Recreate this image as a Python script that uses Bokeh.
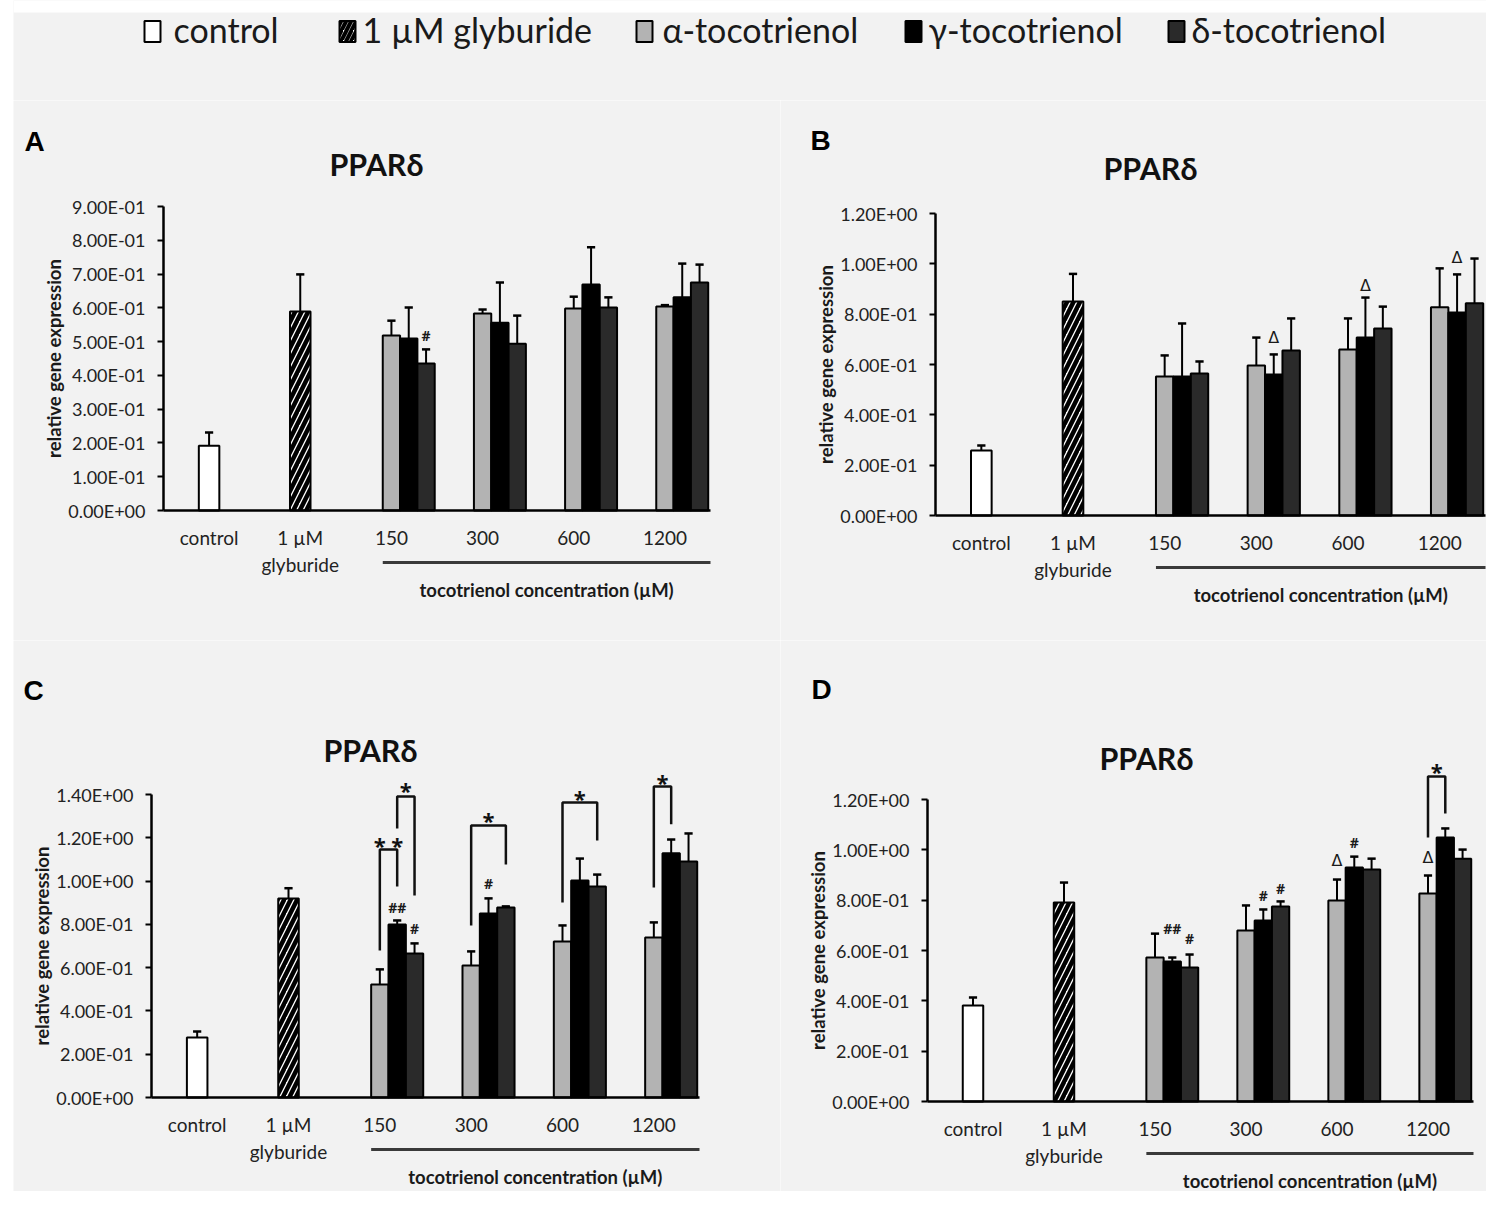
import math
from bokeh.plotting import figure
from bokeh.models import FixedTicker, Range1d, Spacer
from bokeh.layouts import column, row
from bokeh.embed import file_html
from bokeh.resources import INLINE
from bokeh.core.properties import value

BG = "#f2f2f2"
FONT = "Lato"

# ---------------- data ----------------
categories = ["control", "1 µM\nglyburide", "150", "300", "600", "1200"]
series_names = ["control", "1 µM glyburide", "α-tocotrienol", "γ-tocotrienol", "δ-tocotrienol"]
panel_letters = ["A", "B", "C", "D"]
panel_title = "PPARδ"
x_group_title = "tocotrienol concentration (µM)"
y_title = "relative gene expression"

# Panel A
A_ref = [0.192, 0.589]            # control, 1 µM glyburide
A_ref_sd = [0.039, 0.110]
A_alpha = [0.518, 0.583, 0.598, 0.604]
A_alpha_sd = [0.044, 0.012, 0.035, 0.004]
A_gamma = [0.509, 0.556, 0.669, 0.631]
A_gamma_sd = [0.092, 0.119, 0.110, 0.100]
A_delta = [0.435, 0.494, 0.601, 0.675]
A_delta_sd = [0.042, 0.083, 0.030, 0.053]
A_yticks = [0, 0.1, 0.2, 0.3, 0.4, 0.5, 0.6, 0.7, 0.8, 0.9]
A_ylabels = ["0.00E+00", "1.00E-01", "2.00E-01", "3.00E-01", "4.00E-01",
             "5.00E-01", "6.00E-01", "7.00E-01", "8.00E-01", "9.00E-01"]
A_marks = [(0, 2, "#", 0.518)]
A_brackets = []

# Panel B
B_ref = [0.258, 0.850]
B_ref_sd = [0.020, 0.110]
B_alpha = [0.552, 0.596, 0.660, 0.827]
B_alpha_sd = [0.084, 0.111, 0.123, 0.155]
B_gamma = [0.552, 0.560, 0.707, 0.807]
B_gamma_sd = [0.211, 0.080, 0.159, 0.151]
B_delta = [0.564, 0.656, 0.743, 0.843]
B_delta_sd = [0.048, 0.127, 0.087, 0.178]
B_yticks = [0, 0.2, 0.4, 0.6, 0.8, 1.0, 1.2]
B_ylabels = ["0.00E+00", "2.00E-01", "4.00E-01", "6.00E-01", "8.00E-01", "1.00E+00", "1.20E+00"]
B_marks = [(1, 1, "Δ", 0.707), (2, 1, "Δ", 0.914), (3, 1, "Δ", 1.025)]
B_brackets = []

# Panel C
C_ref = [0.277, 0.920]
C_ref_sd = [0.028, 0.047]
C_alpha = [0.522, 0.610, 0.721, 0.739]
C_alpha_sd = [0.070, 0.065, 0.074, 0.070]
C_gamma = [0.799, 0.850, 1.003, 1.128]
C_gamma_sd = [0.019, 0.070, 0.101, 0.064]
C_delta = [0.665, 0.878, 0.975, 1.091]
C_delta_sd = [0.047, 0.005, 0.055, 0.129]
C_yticks = [0, 0.2, 0.4, 0.6, 0.8, 1.0, 1.2, 1.4]
C_ylabels = ["0.00E+00", "2.00E-01", "4.00E-01", "6.00E-01", "8.00E-01",
             "1.00E+00", "1.20E+00", "1.40E+00"]
C_marks = [(0, 1, "##", 0.878), (0, 2, "#", 0.781), (1, 1, "#", 0.989)]
# (group, left series, right series, left foot, top, right foot, label, label y)
C_brackets = [(0, 0, 1, 0.679, 1.146, 0.975, "* *", 1.188),
              (0, 1, 2, 1.243, 1.391, 0.933, "*", 1.442),
              (1, 0, 2, 0.795, 1.257, 1.077, "*", 1.303),
              (2, 0, 2, 0.901, 1.363, 1.188, "*", 1.405),
              (3, 0, 1, 0.970, 1.437, 1.262, "*", 1.479)]

# Panel D
D_ref = [0.381, 0.791]
D_ref_sd = [0.032, 0.079]
D_alpha = [0.572, 0.679, 0.799, 0.826]
D_alpha_sd = [0.095, 0.100, 0.083, 0.072]
D_gamma = [0.556, 0.719, 0.930, 1.049]
D_gamma_sd = [0.016, 0.044, 0.043, 0.036]
D_delta = [0.532, 0.775, 0.922, 0.965]
D_delta_sd = [0.052, 0.020, 0.043, 0.036]
D_yticks = [0, 0.2, 0.4, 0.6, 0.8, 1.0, 1.2]
D_ylabels = ["0.00E+00", "2.00E-01", "4.00E-01", "6.00E-01", "8.00E-01", "1.00E+00", "1.20E+00"]
D_marks = [(0, 1, "##", 0.687), (0, 2, "#", 0.648), (1, 1, "#", 0.818), (1, 2, "#", 0.846),
           (2, 0, "Δ", 0.957), (2, 1, "#", 1.029), (3, 0, "Δ", 0.969)]
D_brackets = [(3, 0, 1, 1.049, 1.291, 1.144, "*", 1.335)]

# ---------------- style ----------------
series_fill = ["white", "white", "#b3b3b3", "#000000", "#2a2a2a"]
REF_W = 0.225
BAR_W = 0.19

# page-pixel layout of each panel (left, top, right, bottom, axis x0, axis x6, axis y0, axis ytop)
GEOM = {
    "A": dict(left=13, top=100, right=780, bottom=640, x0=163, x6=710, y0=510, ytop=206,
              title=(376, 163), letter=(34, 141)),
    "B": dict(left=780, top=100, right=1486, bottom=640, x0=935, x6=1485, y0=515, ytop=213,
              title=(1150, 167), letter=(820, 140)),
    "C": dict(left=13, top=640, right=780, bottom=1191, x0=151, x6=699, y0=1097, ytop=794,
              title=(370, 749), letter=(33, 690)),
    "D": dict(left=780, top=640, right=1486, bottom=1191, x0=927, x6=1473, y0=1101, ytop=799,
              title=(1146, 757), letter=(821, 689)),
}


def make_panel(name, ymax, yticks, ylabels, ref, ref_sd, series, marks, brackets):
    g = GEOM[name]
    W = g["right"] - g["left"]
    H = g["bottom"] - g["top"]
    w = (g["x6"] - g["x0"]) / 6.0
    k = (g["y0"] - g["ytop"]) / ymax
    xs = -(g["x0"] - g["left"]) / w
    xe = 6 + (g["right"] - g["x6"]) / w
    ys = -(g["bottom"] - g["y0"]) / k
    ye = ymax + (g["ytop"] - g["top"]) / k

    def X(px):
        return xs + (px - g["left"]) / w

    def Y(py):
        return (g["y0"] - py) / k

    p = figure(width=W, height=H, x_range=Range1d(xs, xe), y_range=Range1d(ys, ye),
               output_backend="svg", toolbar_location=None, min_border=0,
               background_fill_color=BG, border_fill_color=BG, outline_line_color=None)
    p.grid.visible = False

    # x axis (category axis) at y = 0
    xa = p.xaxis[0]
    xa.fixed_location = 0
    xa.bounds = (0, 6)
    xticks = [i + 0.5 for i in range(len(categories))]
    xa.ticker = FixedTicker(ticks=xticks)
    xa.major_label_overrides = {t: c for t, c in zip(xticks, categories)}
    xa.major_tick_line_color = None
    xa.major_tick_out = 0
    xa.major_tick_in = 0
    xa.minor_tick_line_color = None
    xa.axis_line_width = 2.5
    xa.axis_line_color = "black"
    xa.major_label_text_font = FONT
    xa.major_label_text_font_size = "19px"
    xa.major_label_text_color = "#222222"
    xa.major_label_standoff = 15

    # y axis at x = 0
    ya = p.yaxis[0]
    ya.fixed_location = 0
    ya.bounds = (0, ymax)
    ya.ticker = FixedTicker(ticks=yticks)
    ya.major_label_overrides = {t: l for t, l in zip(yticks, ylabels)}
    ya.major_tick_out = 6
    ya.major_tick_in = 0
    ya.major_tick_line_width = 2
    ya.minor_tick_line_color = None
    ya.axis_line_width = 2.5
    ya.axis_line_color = "black"
    ya.major_label_text_font = FONT
    ya.major_label_text_font_size = "18px"
    ya.major_label_text_color = "#222222"
    ya.major_label_standoff = 12

    err_x, err_y0, err_y1 = [], [], []

    # control bar
    p.vbar(x=[0.5], top=[ref[0]], width=REF_W, bottom=0, fill_color=series_fill[0],
           line_color="black", line_width=2)
    # glyburide bar (hatched)
    p.vbar(x=[1.5], top=[ref[1]], width=REF_W, bottom=0, fill_color=series_fill[1],
           line_color="black", line_width=2, hatch_pattern=value("/"),
           hatch_color="black", hatch_weight=4.5, hatch_scale=13)
    for i in range(2):
        err_x.append(i + 0.5)
        err_y0.append(ref[i])
        err_y1.append(ref[i] + ref_sd[i])

    # tocotrienol groups
    for s, (vals, sds) in enumerate(series):
        bx = [gi + 2.5 + s * BAR_W for gi in range(len(vals))]
        p.vbar(x=bx, top=vals, width=BAR_W, bottom=0, fill_color=series_fill[2 + s],
               line_color="black", line_width=2)
        for xv, v, sd in zip(bx, vals, sds):
            err_x.append(xv)
            err_y0.append(v)
            err_y1.append(v + sd)

    cap = 0.045
    p.segment(x0=err_x, y0=err_y0, x1=err_x, y1=err_y1, line_color="black", line_width=2)
    p.segment(x0=[x - cap for x in err_x], y0=err_y1, x1=[x + cap for x in err_x], y1=err_y1,
              line_color="black", line_width=2.5)

    # significance marks
    if marks:
        hx = [m[0] + 2.5 + m[1] * BAR_W for m in marks if m[2] != "Δ"]
        hy = [m[3] for m in marks if m[2] != "Δ"]
        ht = [m[2] for m in marks if m[2] != "Δ"]
        if ht:
            p.text(x=hx, y=hy, text=ht, text_font=value("Open Sans"), text_font_size="14px",
                   text_font_style="bold", text_align="center", text_baseline="middle",
                   text_color="#1a1a1a")
        dx = [m[0] + 2.5 + m[1] * BAR_W for m in marks if m[2] == "Δ"]
        dy = [m[3] for m in marks if m[2] == "Δ"]
        dt = [m[2] for m in marks if m[2] == "Δ"]
        if dt:
            p.text(x=dx, y=dy, text=dt, text_font=value("DejaVu Sans"), text_font_size="16px",
                   text_align="center", text_baseline="middle", text_color="#1a1a1a")

    # brackets
    if brackets:
        bxs, bys, lx, ly, lt = [], [], [], [], []
        for (gi, sl, sr, yl, yt, yr, lab, laby) in brackets:
            xl = gi + 2.5 + sl * BAR_W
            xr = gi + 2.5 + sr * BAR_W
            bxs.append([xl, xl, xr, xr])
            bys.append([yl, yt, yt, yr])
            lx.append((xl + xr) / 2)
            ly.append(laby)
            lt.append(lab)
        p.multi_line(xs=bxs, ys=bys, line_color="#111111", line_width=2.5)
        p.text(x=lx, y=ly, text=lt, text_font=value("Open Sans"), text_font_size="22px",
               text_font_style="bold", text_align="center", text_baseline="middle",
               text_color="#111111", y_offset=5)

    # group underline and label
    p.segment(x0=[2.5 - BAR_W / 2], y0=[Y(g["y0"] + 52)], x1=[6.0], y1=[Y(g["y0"] + 52)],
              line_color="#3a3a3a", line_width=3)
    p.text(x=[(2.5 - BAR_W / 2 + 6.0) / 2], y=[Y(g["y0"] + 79)], text=[x_group_title],
           text_font=value(FONT), text_font_size="18.5px", text_font_style="bold",
           text_align="center", text_baseline="middle", text_color="#1a1a1a")

    # y title
    p.text(x=[X(g["x0"] - 110)], y=[ymax / 2], text=[y_title], angle=math.pi / 2,
           text_font=value(FONT), text_font_size="18.5px", text_font_style="bold",
           text_align="center", text_baseline="middle", text_color="#1a1a1a")

    # panel title and letter
    tx, ty = g["title"]
    p.text(x=[X(tx)], y=[Y(ty)], text=[panel_title], text_font=value(FONT),
           text_font_size="30.5px", text_font_style="bold", text_align="center",
           text_baseline="middle", text_color="#111111")
    lx0, ly0 = g["letter"]
    p.text(x=[X(lx0)], y=[Y(ly0)], text=[name], text_font=value("Liberation Sans"),
           text_font_size="28px", text_font_style="bold", text_align="center",
           text_baseline="middle", text_color="black")
    return p


pA = make_panel("A", 0.9, A_yticks, A_ylabels, A_ref, A_ref_sd,
                [(A_alpha, A_alpha_sd), (A_gamma, A_gamma_sd), (A_delta, A_delta_sd)],
                A_marks, A_brackets)
pB = make_panel("B", 1.2, B_yticks, B_ylabels, B_ref, B_ref_sd,
                [(B_alpha, B_alpha_sd), (B_gamma, B_gamma_sd), (B_delta, B_delta_sd)],
                B_marks, B_brackets)
pC = make_panel("C", 1.4, C_yticks, C_ylabels, C_ref, C_ref_sd,
                [(C_alpha, C_alpha_sd), (C_gamma, C_gamma_sd), (C_delta, C_delta_sd)],
                C_marks, C_brackets)
pD = make_panel("D", 1.2, D_yticks, D_ylabels, D_ref, D_ref_sd,
                [(D_alpha, D_alpha_sd), (D_gamma, D_gamma_sd), (D_delta, D_delta_sd)],
                D_marks, D_brackets)

# ---------------- legend strip (page top to y = 100) ----------------
LW, LH = 1473, 100
leg = figure(width=LW, height=LH, x_range=Range1d(0, LW), y_range=Range1d(0, LH),
             output_backend="svg", toolbar_location=None, min_border=0,
             background_fill_color=BG, border_fill_color=BG, outline_line_color=None,
             x_axis_location=None, y_axis_location=None)
leg.grid.visible = False
# white page margin above the grey panel area
leg.quad(left=[0], right=[LW], bottom=[LH - 12], top=[LH], fill_color="white", line_color=None)
box_cx = [139, 334, 631, 900, 1163]
text_x = [160, 349, 649, 915, 1178]
for i in range(5):
    kw = dict(fill_color=series_fill[i], line_color="black", line_width=2)
    if i == 1:
        kw.update(hatch_pattern=value("/"), hatch_color="black", hatch_weight=4, hatch_scale=10)
    leg.rect(x=[box_cx[i]], y=[69], width=16, height=21, **kw)
leg.text(x=text_x, y=[71] * 5, text=series_names, text_font=value(FONT),
         text_font_size="34px", text_align="left", text_baseline="middle",
         text_color="#1a1a1a")

layout = row(Spacer(width=13, height=1191),
             column(leg, row(pA, pB), row(pC, pD)))

open("out.html", "w").write(file_html(layout, INLINE))
